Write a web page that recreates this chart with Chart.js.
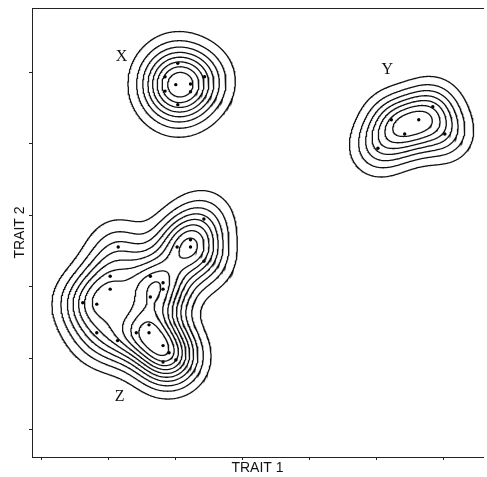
<!DOCTYPE html>
<html>
<head>
<meta charset="utf-8">
<script src="https://cdn.jsdelivr.net/npm/chart.js@4.4.0/dist/chart.umd.min.js"></script>
<style>
  html, body { margin: 0; padding: 0; background: #fff; overflow: hidden; }
</style>
</head>
<body>
<canvas id="chart" width="487" height="477"></canvas>
<script>
const clusterX = [[3.03,6.13],[2.84,5.94],[3.43,5.94],[3.00,5.83],[3.22,5.84],[2.84,5.74],[3.22,5.73],[3.03,5.55]];
const clusterY = [[6.84,5.52],[6.22,5.34],[6.63,5.34],[6.42,5.14],[7.02,5.14],[6.02,4.94]];
const clusterZ = [[3.42,3.95],[3.22,3.66],[3.22,3.56],[3.02,3.56],[2.14,3.56],[3.42,3.36],[2.02,3.15],[2.62,3.15],
                  [2.81,3.06],[2.81,2.97],[2.02,2.97],[2.62,2.86],[1.61,2.78],[1.82,2.76],[2.60,2.47],[2.60,2.36],
                  [2.41,2.36],[1.82,2.36],[2.13,2.25],[2.81,2.18],[2.90,2.08],[2.81,1.95],[3.00,1.98]];
const clusterNames = ['X', 'Y', 'Z'];
const labelAt = [[2.19,6.22],[6.16,6.04],[2.16,1.46]];
const ringCounts = [8, 7, 10];                       // contour rings drawn round each cluster
const bandwidths = [[0.326,0.308],[0.281,0.266],[0.304,0.287]];
const xTicks = [1, 2, 3, 4, 5, 6, 7];
const yTicks = [1, 2, 3, 4, 5, 6];
const xRange = [0.852, 7.59];
const yRange = [0.622, 6.902];

const clusters = [clusterX, clusterY, clusterZ];

// density grid
const step = 0.015;
const xs = [], ys = [];
for (let x = xRange[0]; x <= xRange[1] + step; x += step) xs.push(x);
for (let y = yRange[0]; y <= yRange[1] + step; y += step) ys.push(y);
const nx = xs.length, ny = ys.length;

function densityGrid(pts, bw) {
  const vals = new Float64Array(nx * ny);
  for (let j = 0; j < ny; j++) {
    for (let i = 0; i < nx; i++) {
      let s = 0;
      for (const p of pts) {
        const dx = (xs[i] - p[0]) / bw[0], dy = (ys[j] - p[1]) / bw[1];
        s += Math.exp(-0.5 * (dx * dx + dy * dy));
      }
      vals[j * nx + i] = s;
    }
  }
  return vals;
}

// marching squares, segments chained into polylines
const CASES = {1:[[3,0]],2:[[0,1]],3:[[3,1]],4:[[1,2]],6:[[0,2]],7:[[3,2]],8:[[2,3]],9:[[0,2]],11:[[1,2]],12:[[1,3]],13:[[0,1]],14:[[3,0]]};

function traceLevel(vals, L) {
  const pts = new Map(), adj = new Map();
  function ep(id, ax, ay, bx, by, va, vb) {
    if (!pts.has(id)) {
      const t = (L - va) / (vb - va);
      pts.set(id, { x: xs[ax] + t * (xs[bx] - xs[ax]), y: ys[ay] + t * (ys[by] - ys[ay]) });
    }
    return id;
  }
  function link(a, b) {
    if (!adj.has(a)) adj.set(a, []);
    if (!adj.has(b)) adj.set(b, []);
    adj.get(a).push(b); adj.get(b).push(a);
  }
  for (let j = 0; j < ny - 1; j++) {
    for (let i = 0; i < nx - 1; i++) {
      const v0 = vals[j * nx + i], v1 = vals[j * nx + i + 1];
      const v2 = vals[(j + 1) * nx + i + 1], v3 = vals[(j + 1) * nx + i];
      const c = (v0 > L ? 1 : 0) | (v1 > L ? 2 : 0) | (v2 > L ? 4 : 0) | (v3 > L ? 8 : 0);
      if (c === 0 || c === 15) continue;
      const edge = k => {
        if (k === 0) return ep(2 * (j * nx + i), i, j, i + 1, j, v0, v1);
        if (k === 1) return ep(2 * (j * nx + i + 1) + 1, i + 1, j, i + 1, j + 1, v1, v2);
        if (k === 2) return ep(2 * ((j + 1) * nx + i), i, j + 1, i + 1, j + 1, v3, v2);
        return ep(2 * (j * nx + i) + 1, i, j, i, j + 1, v0, v3);
      };
      let segs = CASES[c];
      if (c === 5 || c === 10) {
        const mid = (v0 + v1 + v2 + v3) / 4 > L;
        if (c === 5) segs = mid ? [[0,1],[2,3]] : [[3,0],[1,2]];
        else segs = mid ? [[3,0],[1,2]] : [[0,1],[2,3]];
      }
      segs.forEach(s => link(edge(s[0]), edge(s[1])));
    }
  }
  const seen = new Set(), lines = [];
  function walk(start) {
    const line = [start];
    seen.add(start);
    let prev = null, cur = start;
    for (;;) {
      const nb = adj.get(cur).find(n => n !== prev && !seen.has(n));
      if (nb === undefined) break;
      line.push(nb); seen.add(nb); prev = cur; cur = nb;
    }
    if (line.length > 2 && adj.get(cur).includes(start)) line.push(start);
    return line.map(id => pts.get(id));
  }
  for (const [id, n] of adj) if (n.length === 1 && !seen.has(id)) lines.push(walk(id));
  for (const id of adj.keys()) if (!seen.has(id)) lines.push(walk(id));
  return lines;
}

const datasets = [];
clusters.forEach((pts, c) => {
  const vals = densityGrid(pts, bandwidths[c]);
  let peak = 0;
  for (let k = 0; k < vals.length; k++) if (vals[k] > peak) peak = vals[k];
  const gap = peak / (ringCounts[c] + 1);
  for (let k = 1; k <= ringCounts[c]; k++) {
    traceLevel(vals, k * gap).forEach(line => datasets.push({
      data: line, showLine: true, pointRadius: 0, borderColor: '#111', borderWidth: 1.3, tension: 0, fill: false
    }));
  }
});
datasets.push({
  data: clusters.flat().map(p => ({ x: p[0], y: p[1] })),
  pointRadius: 1.7, pointBackgroundColor: '#000', pointBorderWidth: 0, showLine: false
});

const clusterLabels = {
  id: 'clusterLabels',
  afterDatasetsDraw(chart) {
    const { ctx, scales } = chart;
    ctx.save();
    ctx.font = '16px "Liberation Serif"';
    ctx.fillStyle = '#111';
    ctx.textAlign = 'center';
    ctx.textBaseline = 'middle';
    clusterNames.forEach((n, i) => ctx.fillText(n, scales.x.getPixelForValue(labelAt[i][0]), scales.y.getPixelForValue(labelAt[i][1])));
    ctx.restore();
  }
};

const axisFont = { family: '"Liberation Sans", Arial, sans-serif', size: 14 };

new Chart(document.getElementById('chart'), {
  type: 'scatter',
  data: { datasets },
  options: {
    responsive: false,
    animation: false,
    devicePixelRatio: 1,
    layout: { padding: { top: 8, left: 0, right: 0, bottom: 0 } },
    plugins: { legend: { display: false }, tooltip: { enabled: false } },
    scales: {
      x: {
        type: 'linear', position: 'bottom', min: xRange[0], max: xRange[1],
        afterBuildTicks: s => { s.ticks = xTicks.map(v => ({ value: v })); },
        afterFit: s => { s.height = 20; },
        ticks: { display: false },
        grid: { drawOnChartArea: false, drawTicks: true, tickLength: 3, color: '#222' },
        border: { display: true, color: '#222', width: 1 },
        title: { display: true, text: 'TRAIT 1', font: axisFont, color: '#111', padding: { top: 0, bottom: 0 } }
      },
      x2: {
        type: 'linear', position: 'top', min: xRange[0], max: xRange[1],
        afterBuildTicks: s => { s.ticks = []; },
        afterFit: s => { s.height = 0; },
        ticks: { display: false },
        grid: { display: false },
        border: { display: true, color: '#222', width: 1 }
      },
      y: {
        type: 'linear', position: 'left', min: yRange[0], max: yRange[1],
        afterBuildTicks: s => { s.ticks = yTicks.map(v => ({ value: v })); },
        afterFit: s => { s.width = 32; },
        ticks: { display: false },
        grid: { drawOnChartArea: false, drawTicks: true, tickLength: 3, color: '#222' },
        border: { display: true, color: '#222', width: 1 },
        title: { display: true, text: 'TRAIT 2', font: axisFont, color: '#111', padding: { top: 12, bottom: 0 } }
      }
    }
  },
  plugins: [clusterLabels]
});
</script>
</body>
</html>
